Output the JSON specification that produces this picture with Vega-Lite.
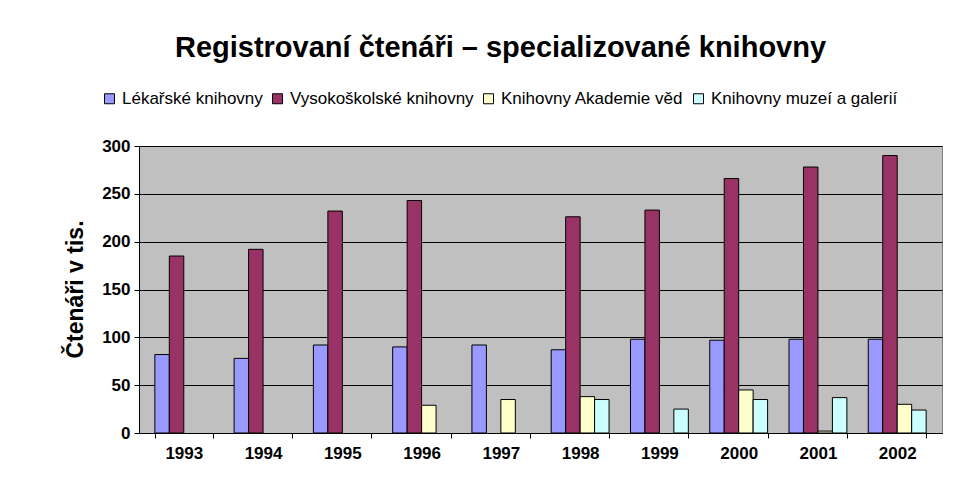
{
  "$schema": "https://vega.github.io/schema/vega-lite/v6.json",
  "width": 803,
  "height": 287,
  "autosize": "none",
  "padding": {"left": 139, "top": 146, "right": 38, "bottom": 51},
  "background": "white",
  "title": {
    "text": "Registrovaní čtenáři – specializované knihovny",
    "font": "Liberation Sans",
    "fontSize": 29,
    "fontWeight": "bold",
    "color": "black",
    "anchor": "middle",
    "frame": "group",
    "dx": -40,
    "offset": 27
  },
  "data": {
    "values": [
      {"year": "1993", "series": "Lékařské knihovny", "value": 82},
      {"year": "1993", "series": "Vysokoškolské knihovny", "value": 185},
      {"year": "1994", "series": "Lékařské knihovny", "value": 78},
      {"year": "1994", "series": "Vysokoškolské knihovny", "value": 192},
      {"year": "1995", "series": "Lékařské knihovny", "value": 92},
      {"year": "1995", "series": "Vysokoškolské knihovny", "value": 232},
      {"year": "1996", "series": "Lékařské knihovny", "value": 90},
      {"year": "1996", "series": "Vysokoškolské knihovny", "value": 243},
      {"year": "1996", "series": "Knihovny Akademie věd", "value": 29},
      {"year": "1997", "series": "Lékařské knihovny", "value": 92},
      {"year": "1997", "series": "Knihovny Akademie věd", "value": 35},
      {"year": "1998", "series": "Lékařské knihovny", "value": 87},
      {"year": "1998", "series": "Vysokoškolské knihovny", "value": 226},
      {"year": "1998", "series": "Knihovny Akademie věd", "value": 38},
      {"year": "1998", "series": "Knihovny muzeí a galerií", "value": 35},
      {"year": "1999", "series": "Lékařské knihovny", "value": 98},
      {"year": "1999", "series": "Vysokoškolské knihovny", "value": 233},
      {"year": "1999", "series": "Knihovny muzeí a galerií", "value": 25},
      {"year": "2000", "series": "Lékařské knihovny", "value": 97},
      {"year": "2000", "series": "Vysokoškolské knihovny", "value": 266},
      {"year": "2000", "series": "Knihovny Akademie věd", "value": 45},
      {"year": "2000", "series": "Knihovny muzeí a galerií", "value": 35},
      {"year": "2001", "series": "Lékařské knihovny", "value": 98},
      {"year": "2001", "series": "Vysokoškolské knihovny", "value": 278},
      {"year": "2001", "series": "Knihovny Akademie věd", "value": 2},
      {"year": "2001", "series": "Knihovny muzeí a galerií", "value": 37},
      {"year": "2002", "series": "Lékařské knihovny", "value": 98},
      {"year": "2002", "series": "Vysokoškolské knihovny", "value": 290},
      {"year": "2002", "series": "Knihovny Akademie věd", "value": 30},
      {"year": "2002", "series": "Knihovny muzeí a galerií", "value": 24}
    ]
  },
  "mark": {"type": "bar", "stroke": "black", "strokeWidth": 1},
  "encoding": {
    "x": {
      "field": "year",
      "type": "nominal",
      "scale": {"paddingInner": 0.27, "paddingOuter": 0.2},
      "axis": {
        "title": null,
        "labelAngle": 0,
        "labelFont": "Liberation Sans",
        "labelFontWeight": "bold",
        "labelFontSize": 17,
        "labelColor": "black",
        "labelPadding": 7,
        "tickBand": "extent",
        "tickColor": "black",
        "tickSize": 5,
        "domainColor": "black",
        "grid": false
      }
    },
    "xOffset": {
      "field": "series",
      "type": "nominal",
      "scale": {"domain": ["Lékařské knihovny", "Vysokoškolské knihovny", "Knihovny Akademie věd", "Knihovny muzeí a galerií"]}
    },
    "y": {
      "field": "value",
      "type": "quantitative",
      "scale": {"domain": [0, 300]},
      "axis": {
        "title": "Čtenáři v tis.",
        "titleFont": "Liberation Sans",
        "titleFontSize": 23,
        "titleFontWeight": "bold",
        "titleColor": "black",
        "titleAngle": -90,
        "titleX": -64,
        "titleY": 143,
        "titleAlign": "center",
        "titleBaseline": "middle",
        "values": [0, 50, 100, 150, 200, 250, 300],
        "labelFont": "Liberation Sans",
        "labelFontWeight": "bold",
        "labelFontSize": 17,
        "labelColor": "black",
        "labelPadding": 4,
        "tickColor": "black",
        "tickSize": 5,
        "domainColor": "black",
        "gridColor": "black",
        "gridOpacity": 1,
        "gridWidth": 1
      }
    },
    "color": {
      "field": "series",
      "type": "nominal",
      "scale": {
        "domain": ["Lékařské knihovny", "Vysokoškolské knihovny", "Knihovny Akademie věd", "Knihovny muzeí a galerií"],
        "range": ["#9999FF", "#993366", "#FFFFCC", "#CCFFFF"]
      },
      "legend": {
        "title": null,
        "orient": "none",
        "direction": "horizontal",
        "legendX": -38,
        "legendY": -56,
        "symbolType": "square",
        "symbolSize": 100,
        "symbolStrokeColor": "black",
        "symbolStrokeWidth": 1,
        "symbolOpacity": 1,
        "labelFont": "Liberation Sans",
        "labelFontSize": 17,
        "labelLimit": 400,
        "labelColor": "black",
        "labelOffset": 4,
        "columnPadding": 6
      }
    }
  },
  "config": {
    "view": {"fill": "#C0C0C0", "stroke": "#808080"}
  }
}
